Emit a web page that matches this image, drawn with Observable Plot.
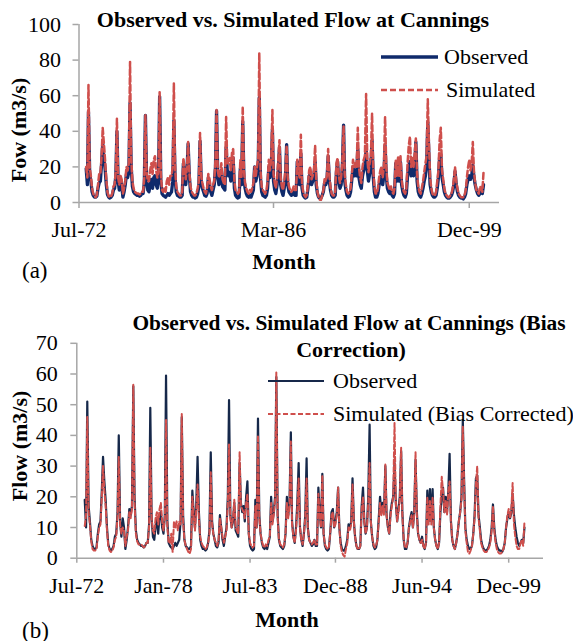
<!DOCTYPE html>
<html><head><meta charset="utf-8">
<script src="https://cdn.jsdelivr.net/npm/d3@7"></script>
<script src="https://cdn.jsdelivr.net/npm/@observablehq/plot@0.6"></script>
<style>
body{margin:0;background:#fff;}
#wrap{position:relative;width:573px;height:641px;overflow:hidden;font-family:"Liberation Serif","Times New Roman",serif;color:#000;background:#fff;}
.t{position:absolute;white-space:nowrap;line-height:1;font-size:22px;}
.c{transform:translate(-50%,-50%);}
.l{transform:translate(0,-50%);}
.b{font-weight:bold;}
.plotbox{position:absolute;left:0;}
</style></head><body><div id="wrap"></div>
<script>
// ---- data (monthly, Jan-1973 .. Dec-2000) ----
const startYear = 1973;
const observedFlow = [
 19,10,51,17,12,6,4,3,3,3.5,8,11,            // 1973
 12,22,33,25,19,10,4.5,3,2.5,3,4,7,          // 1974
 8,15,40,12,7,13,10,3,6,10,16,14,            // 1975
 17,56,20,9,6,5,4.5,4,4,3.5,4,5,             // 1976
 5,11,49,13,7,6,10,13,8,14,15,10,            // 1977
 8,14,59.5,12,5,4,3.5,3,4,5,4,5,             // 1978
 6,12,46,14,6,4,3.5,3,3,4,22,15,             // 1979
 10,18,33,15,6,4,3,3,2.5,3,5,9,              // 1980
 34.5,12,8,6,4,3.5,5,14,10,6,4,7,            // 1981
 10,20,51.5,14,10,12,18,9,8,7,31,18,         // 1982
 15,17,12,20,25,8,4,3,2.5,3,19,10,           // 1983
 45.5,14,8,5,3.5,3,4,3,5,7,20,12,            // 1984
 15,20,59,14,6,4,3.5,3,4,8,20,14,            // 1985
 18,41,12,7,5,10,18,31,10,6,4,8,             // 1986
 14,32.5,10,6,5,4,4.5,6,4,4,23,15,           // 1987
 10,27.5,8,4,3,2.5,3,8,15,16,10,12,          // 1988
 15,23,10,5,3,2.5,2.5,4,6,11,10,12,          // 1989
 26,12,7,4,3,3,4,17,23,12,8,10,              // 1990
 20,43.5,12,7,4,3,3.5,6,13,20,15,18,         // 1991
 15,30,14,10,8,15,18,20,31,18,12,16,         // 1992
 20,35,15,6,3,3,5,10,13,15,10,15,            // 1993
 32,15,8,6,5,7,4,3,5,22,12,22.5,             // 1994
 12,22.5,10,6,4,3,5,15,20,23,15,20,          // 1995
 15,22,34,12,6,4,3,5,8,12,15,20,             // 1996
 45,25,10,6,4,3,3,4,8,14,26,27,              // 1997
 14,10,6,4,3,2.5,2.5,3,4,6,10,17.5,          // 1998
 10,6,4,3,2.5,2.5,2,3,5,10,13,15,            // 1999
 13,15,21,14,10,7,5,4,5,6,5,10               // 2000
];
const simulatedFlow = [
 20,14,66,20,15,8,5,3.5,3,4,10,16,           // 1973
 16,26,42,33,24,13,6,3.5,3,3.5,5,9,          // 1974
 10,18,47,14,10,15,13,5,8,12,20,18,          // 1975
 22,79,25,12,8,6,5.5,5,5,4.5,5,6,            // 1976
 6,14,49,17,12,12,18,22,16,24,26,18,         // 1977
 14,18,62,16,7,6,8,6,12,14,10,15,            // 1978
 15,20,67,20,9,6,5,4,4,6,25,18,              // 1979
 13,20,34,17,9,6,5,4,4,5,8,12,               // 1980
 39,15,11,8,6,5,8,16,13,9,7,10,              // 1981
 12,24,52,18,14,16,22,13,11,10,48,22,        // 1982
 22,25,18,28,30,12,7,6,5,6,24,14,            // 1983
 54,18,11,8,6,5,7,6,8,11,20,15,              // 1984
 20,25,84,18,9,7,6,5,7,12,24,18,             // 1985
 24,52,16,11,8,14,24,35,14,9,7,12,           // 1986
 18,32,14,9,7,6,7,9,7,7,24,18,               // 1987
 14,38,11,6,4,3,4,10,18,20,13,15,            // 1988
 18,32,13,6,3,1.5,1.5,4,7,13,12,15,          // 1989
 30,15,9,5,4,4,6,22,25,15,11,14,             // 1990
 24,43,16,10,6,5,6,8,16,24,20,22,            // 1991
 20,42,20,14,11,20,24,26,61,25,17,22,        // 1992
 26,50,20,9,5,5,8,14,18,20,14,20,            // 1993
 48,20,11,9,7,9,6,5,8,24,15,26,              // 1994
 15,26,13,8,6,5,8,22,32,37,20,25,            // 1995
 20,28,36,16,9,6,5,8,12,17,22,26,            // 1996
 58,32,14,8,5,4,4,6,12,18,35,42,             // 1997
 18,13,8,5,4,3,3,4,5,8,13,20,                // 1998
 12,8,5,4,3,3,3,4,7,14,20,24,                // 1999
 18,22,34,17,11,7,6,5,9,8,6,17               // 2000
];
const biasCorrectedFlow = [
 10.5,14,46,15,11,5.5,3,2.5,2.5,3,7,10,      // 1973
 11,20,30,22,17,9,4,2.5,2,2.5,3.5,6,         // 1974
 7,14,33,11,8,10,9,4,7,9,15,13,              // 1975
 16,56.5,18,8,5.5,4.5,4.5,4.5,4,3.5,4,5,     // 1976
 5,10,36,13,9,8,13,15,11,16,18,12,           // 1977
 9,13,45,10,5,5,8,2,12,10,12,9,              // 1978
 12,11,47,12,6,4,3,2,1.5,3,20,14,            // 1979
 9,16,24,13,7,5,4,3.5,3,3.5,5,8,             // 1980
 28,11,8,6,5,4,6,13,10,7,5,7,                // 1981
 9,18,37,13,10,13,19,10,9,8,34.5,17,         // 1982
 16,15,13,18,21,8,5,4,3.5,4,17,10,           // 1983
 40,13,8,5.5,4,3.5,4.5,4,6,7,18,11,          // 1984
 14,19,60.5,13,6,4.5,4,3.5,4.5,8,18,13,      // 1985
 17,38,11,7,5,9,16,26,10,6,4.5,8,            // 1986
 13,26,10,6,5,4.5,5,6,4.5,4.5,21,14,         // 1987
 10,27,8,4.5,3.5,3,3.5,8,14,15,10,11,        // 1988
 14,23,10,4,2,1,0.5,3,5,10,9,11,             // 1989
 24,12,7,4,3,3,4,16,20,12,8,10,              // 1990
 18,31,12,7,4.5,3.5,4,6,12,18,14,17,         // 1991
 14,30.5,14,10,8,14,17,20,44,18,12,15,       // 1992
 19,36,14,6,3.5,3.5,5,10,12,14,10,14,        // 1993
 34.5,14,8,6,5,6,4,3,5,20,11,19,             // 1994
 11,20,10,6,4,3,5,17,26.5,22,15,19,          // 1995
 14,22,25,12,6,4,3,5,8,12,15,19,             // 1996
 43,24,9,5,2,1.5,2.5,4,8,13,24,30,           // 1997
 13,9,5,3.5,2.5,2,2,2.5,3.5,5,9,17,          // 1998
 9,5,3,2,1.5,1.5,2,3,5,10,14,16,             // 1999
 13,16,24.5,11,7,4,3,3,5,6,4,12              // 2000
];
const tickDatesA = ["1972-07","1986-03","1999-12"];
const tickLabelsA = ["Jul-72","Mar-86","Dec-99"];
const tickDatesB = ["1972-07","1978-01","1983-07","1988-12","1994-06","1999-12"];
const tickLabelsB = ["Jul-72","Jan-78","Jul-83","Dec-88","Jun-94","Dec-99"];
const yTicksA = [0,20,40,60,80,100];
const yTicksB = [0,10,20,30,40,50,60,70];

// ---- build table ----
const parseM = d3.utcParse("%Y-%m");
const rows = observedFlow.map((v,i)=>({
  date: new Date(Date.UTC(startYear + Math.floor(i/12), i%12, 1)),
  obs: v, sim: simulatedFlow[i], bc: biasCorrectedFlow[i]
}));
const tdA = tickDatesA.map(parseM), tdB = tickDatesB.map(parseM);
const fmt = (dates, labels) => d => { const k = dates.findIndex(t=>+t===+d); return k<0?"":labels[k]; };

const AXIS = "#a6a6a6", NAVY_A = "#0f2a6b", NAVY_B = "#16284a", RED = "#cf4f4c";
const baseStyle = {fontFamily:"Liberation Serif, Times New Roman, serif", fontSize:"22px", background:"transparent", overflow:"visible", color:"#000"};

const wrap = document.getElementById("wrap");

// Panel (a)
const xdA = [parseM("1972-07"), new Date(Date.UTC(2002,0,15))];
const plotA = Plot.plot({
  width:573, height:250, marginLeft:78.5, marginRight:74, marginTop:24, marginBottom:48,
  style: baseStyle,
  x:{type:"utc", domain:xdA},
  y:{domain:[0,100]},
  marks:[
    Plot.ruleY([0],{stroke:AXIS, strokeWidth:1.5}),
    Plot.ruleX([xdA[0]],{stroke:AXIS, strokeWidth:1.5}),
    Plot.axisY({ticks:yTicksA, tickSize:6, tickPadding:12, stroke:AXIS, strokeWidth:1.5, fill:"#000", label:null}),
    Plot.axisX({ticks:tdA, tickSize:6, tickPadding:13, stroke:AXIS, strokeWidth:1.5, fill:"#000", label:null, tickFormat:fmt(tdA,tickLabelsA)}),
    Plot.line(rows,{x:"date", y:"obs", stroke:NAVY_A, strokeWidth:3.3}),
    Plot.line(rows,{x:"date", y:"sim", stroke:RED, strokeWidth:2.5, strokeDasharray:"6,3"})
  ]
});
const boxA = document.createElement("div"); boxA.className="plotbox"; boxA.style.top="0px"; boxA.appendChild(plotA); wrap.appendChild(boxA);

// Panel (b)
const xdB = [parseM("1972-07"), new Date(Date.UTC(2002,1,15))];
const plotB = Plot.plot({
  width:573, height:300, marginLeft:76.3, marginRight:30, marginTop:42.8, marginBottom:42.3,
  style: baseStyle,
  x:{type:"utc", domain:xdB},
  y:{domain:[0,70]},
  marks:[
    Plot.ruleY([0],{stroke:AXIS, strokeWidth:1.5}),
    Plot.ruleX([xdB[0]],{stroke:AXIS, strokeWidth:1.5}),
    Plot.axisY({ticks:yTicksB, tickSize:6, tickPadding:13, stroke:AXIS, strokeWidth:1.5, fill:"#000", label:null}),
    Plot.axisX({ticks:tdB, tickSize:5, tickPadding:14, stroke:AXIS, strokeWidth:1.5, fill:"#000", label:null, tickFormat:fmt(tdB,tickLabelsB)}),
    Plot.line(rows,{x:"date", y:"obs", stroke:NAVY_B, strokeWidth:2.2}),
    Plot.line(rows,{x:"date", y:"bc", stroke:RED, strokeWidth:2, strokeDasharray:"5,2.5"})
  ]
});
const boxB = document.createElement("div"); boxB.className="plotbox"; boxB.style.top="300px"; boxB.appendChild(plotB); wrap.appendChild(boxB);

// ---- overlay texts and legends ----
function txt(s, x, y, cls, extra){ const d=document.createElement("div"); d.className="t "+cls; d.textContent=s; d.style.left=x+"px"; d.style.top=y+"px"; if(extra) Object.assign(d.style, extra); wrap.appendChild(d); return d; }
txt("Observed vs. Simulated Flow at Cannings", 293, 20, "c b");
txt("Fow (m3/s)", 19, 130, "b", {transform:"translate(-50%,-50%) rotate(-90deg)"});
txt("Month", 284, 262, "c b");
txt("(a)", 22, 270, "l", {fontSize:"23px"});
txt("Observed", 444, 57, "l");
txt("Simulated", 446, 90, "l");

txt("Observed vs. Simulated Flow at Cannings (Bias", 349, 324, "c b", {fontSize:"21.4px"});
txt("Correction)", 351, 350, "c b");
txt("Flow (m3/s)", 20, 446, "b", {transform:"translate(-50%,-50%) rotate(-90deg)"});
txt("Month", 287, 620, "c b");
txt("(b)", 22, 630, "l", {fontSize:"23px"});
txt("Observed", 333, 381, "l");
txt("Simulated (Bias Corrected)", 333, 414, "l");

const ns="http://www.w3.org/2000/svg";
const leg=document.createElementNS(ns,"svg"); leg.setAttribute("width",573); leg.setAttribute("height",641);
leg.style.position="absolute"; leg.style.left="0"; leg.style.top="0"; leg.style.pointerEvents="none";
function ln(x1,x2,y,color,w,dash){ const l=document.createElementNS(ns,"line"); l.setAttribute("x1",x1); l.setAttribute("x2",x2); l.setAttribute("y1",y); l.setAttribute("y2",y); l.setAttribute("stroke",color); l.setAttribute("stroke-width",w); if(dash) l.setAttribute("stroke-dasharray",dash); leg.appendChild(l); }
ln(381,438,57,NAVY_A,3.5);
ln(381,438,90,RED,2.7,"6,3");
ln(268,324,381,NAVY_B,2.2);
ln(268,324,414,RED,2,"5,2.5");
wrap.appendChild(leg);
</script></body></html>
